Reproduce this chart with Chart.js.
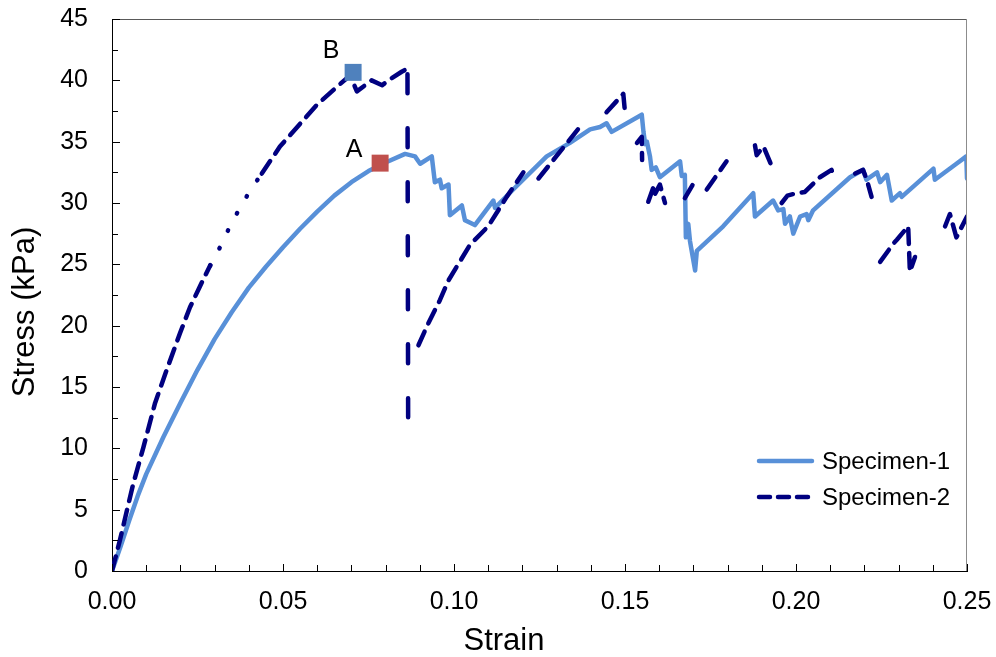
<!DOCTYPE html>
<html>
<head>
<meta charset="utf-8">
<title>Stress-strain</title>
<script src="https://cdn.jsdelivr.net/npm/chart.js@4.4.1/dist/chart.umd.min.js"></script>
<style>
  html, body { margin: 0; padding: 0; background: #fff; }
  #wrap { width: 996px; height: 657px; }
</style>
</head>
<body>
<div id="wrap"><canvas id="chart" width="996" height="657"></canvas></div>
<script>
// -- Data --
var strain1 = [0, 0.0025, 0.005, 0.0075, 0.010, 0.015, 0.020, 0.025, 0.030, 0.035, 0.040, 0.045, 0.050, 0.055, 0.060, 0.065, 0.070, 0.075, 0.080, 0.0857,
  0.0886, 0.0901, 0.0935, 0.0944, 0.0959, 0.0964, 0.0984, 0.0988, 0.1023, 0.1032, 0.1061, 0.1115, 0.1120, 0.1173, 0.1271, 0.1339, 0.1398, 0.1427,
  0.1446, 0.1461, 0.1549, 0.1554, 0.1559, 0.1564, 0.1573, 0.1578, 0.1590, 0.1602, 0.1661, 0.1666, 0.1675, 0.1678, 0.1685, 0.1690, 0.1705, 0.1710,
  0.1787, 0.1875, 0.1880, 0.1933, 0.1948, 0.1963, 0.1968, 0.1982, 0.1992, 0.2012, 0.2031, 0.2036, 0.2050, 0.2158, 0.2196, 0.2206, 0.2237, 0.2246,
  0.2266, 0.2280, 0.2304, 0.2309, 0.2402, 0.2406, 0.2469, 0.2498, 0.2500];
var stress1 = [0, 2.0, 4.1, 6.1, 7.9, 10.9, 13.7, 16.4, 18.9, 21.1, 23.1, 24.8, 26.4, 27.9, 29.3, 30.6, 31.7, 32.6, 33.3, 34.0,
  33.8, 33.2, 33.8, 31.7, 31.9, 31.2, 31.5, 29.0, 29.8, 28.6, 28.2, 30.2, 29.6, 31.1, 33.8, 34.9, 36.0, 36.2,
  36.5, 35.8, 37.2, 35.8, 34.8, 35.0, 33.8, 32.7, 32.9, 32.1, 33.4, 32.2, 32.3, 27.2, 28.3, 26.9, 24.5, 26.1,
  28.1, 30.8, 28.9, 30.2, 29.4, 29.5, 28.3, 28.9, 27.5, 28.9, 29.1, 28.6, 29.4, 32.1, 32.7, 31.9, 32.5, 31.7,
  32.3, 30.2, 30.8, 30.5, 32.8, 31.9, 33.2, 33.8, 32.0];

// null marks a break in the recorded curve
var strain2 = [0, 0.0023, 0.0062, 0.0092, 0.0126, 0.0160, 0.0199, 0.0228, 0.0257, 0.0287, 0.0316, 0.0345, 0.0374, 0.0406, 0.0438, 0.0491,
  0.0545, 0.0599, 0.0667, 0.0696, 0.0716, 0.0759, 0.0790, 0.0808, 0.0847, 0.0860, 0.0864, 0.0866, null, 0.0896, 0.0925, 0.0959, 0.0984,
  0.1047, 0.1100, 0.1154, 0.1203, null, 0.1247, 0.1368, null, 0.1446, 0.1495, 0.1500, null, 0.1535, 0.1549, 0.1550, null,
  0.1568, 0.1582, 0.1585, 0.1602, 0.1617, null, 0.1675, 0.1709, null, 0.1739, 0.1797, null, 0.1880, 0.1885, 0.1905, 0.1926, null,
  0.1958, 0.1975, 0.2002, 0.2026, 0.2070, 0.2104, 0.2110, null, 0.2173, 0.2196, 0.2207, 0.2221, null,
  0.2246, 0.2285, 0.2295, 0.2328, 0.2333, 0.2348, null, 0.2436, 0.2450, 0.2469, 0.2500];
var stress2 = [0, 2.5, 7.1, 10.1, 13.7, 16.4, 19.4, 21.5, 23.2, 24.9, 26.4, 28.1, 29.6, 31.1, 32.4, 34.6,
  36.3, 38.0, 39.7, 40.4, 39.1, 40.0, 39.6, 40.0, 40.7, 40.9, 40.5, 10.9, null, 18.4, 20.2, 22.1, 23.7,
  26.6, 28.1, 30.5, 32.5, null, 32.0, 36.2, null, 37.4, 38.9, 37.4, null, 34.9, 35.4, 33.5, null,
  30.1, 31.2, 30.6, 31.5, 30.0, null, 30.4, 32.0, null, 31.1, 33.4, null, 34.7, 33.9, 34.6, 33.2, null,
  30.0, 30.6, 30.8, 30.9, 32.1, 32.7, 32.2, null, 32.4, 32.7, 31.9, 30.5, null,
  25.2, 26.7, 27.0, 28.1, 24.4, 25.6, null, 28.1, 29.1, 27.2, 28.9];

var pointA = { x: 0.0784, y: 33.25 };
var pointB = { x: 0.0705, y: 40.65 };

var xTicks = [0, 0.05, 0.10, 0.15, 0.20, 0.25];
var yTicks = [0, 5, 10, 15, 20, 25, 30, 35, 40, 45];

var LIGHT = '#5890D8';
var NAVY = '#000080';
var FONT = "'Liberation Sans', Arial, sans-serif";

function toPoints(xs, ys) {
  return xs.map(function (x, i) {
    return x === null ? { x: NaN, y: null } : { x: x, y: ys[i] };
  });
}

function noOverflow(scale) {
  scale.paddingTop = 0;
  scale.paddingBottom = 0;
  scale.paddingLeft = 0;
  scale.paddingRight = 0;
}

// inside tick marks, frame, axis titles, labels A/B and legend
var decorations = {
  id: 'decorations',
  afterDatasetsDraw: function (chart) {
    var c = chart.ctx, a = chart.chartArea;
    var xs = chart.scales.x, ys = chart.scales.y;
    c.save();
    // frame (top and right)
    c.lineWidth = 1;
    c.strokeStyle = '#595959';
    c.beginPath();
    c.moveTo(a.left, a.top + 0.5); c.lineTo(a.right, a.top + 0.5);
    c.stroke();
    c.strokeStyle = '#8c8c8c';
    c.beginPath();
    c.moveTo(a.right - 0.5, a.top); c.lineTo(a.right - 0.5, a.bottom);
    c.stroke();

    // ticks pointing inward
    c.strokeStyle = '#000';
    c.beginPath();
    for (var v = 0; v <= 0.2501; v += 0.01) {
      var px = Math.round(xs.getPixelForValue(v)) + 0.5;
      var len = (Math.round(v * 100) % 5 === 0) ? 7 : 6;
      c.moveTo(px, a.bottom); c.lineTo(px, a.bottom - len);
    }
    for (var s = 0; s <= 45; s += 2.5) {
      var py = Math.round(ys.getPixelForValue(s)) + 0.5;
      var l2 = (s % 5 === 0) ? 8 : 6;
      c.moveTo(a.left, py); c.lineTo(a.left + l2, py);
    }
    c.stroke();

    // axis titles
    c.fillStyle = '#000';
    c.font = '31px ' + FONT;
    c.textAlign = 'center';
    c.textBaseline = 'middle';
    c.fillText('Strain', 504, 641);
    c.save();
    c.translate(25, 312);
    c.rotate(-Math.PI / 2);
    c.fillText('Stress (kPa)', 0, 0);
    c.restore();

    // point labels
    c.font = '25px ' + FONT;
    c.fillText('B', 331, 51);
    c.fillText('A', 354, 150);

    // legend
    c.lineWidth = 4.5;
    c.lineCap = 'round';
    c.strokeStyle = LIGHT;
    c.beginPath(); c.moveTo(759, 461); c.lineTo(812, 461); c.stroke();
    c.strokeStyle = NAVY;
    c.setLineDash([11, 8]);
    c.beginPath(); c.moveTo(759, 497); c.lineTo(812, 497); c.stroke();
    c.setLineDash([]);
    c.font = '24px ' + FONT;
    c.textAlign = 'left';
    c.fillText('Specimen-1', 822, 462);
    c.fillText('Specimen-2', 822, 498);
    c.restore();
  }
};

new Chart(document.getElementById('chart'), {
  type: 'scatter',
  data: {
    datasets: [
      {
        label: 'B',
        data: [pointB],
        pointStyle: 'rect',
        pointRadius: 12,
        backgroundColor: '#4F81BD',
        borderColor: '#4F81BD',
        borderWidth: 0,
        showLine: false,
        order: 0
      },
      {
        label: 'A',
        data: [pointA],
        pointStyle: 'rect',
        pointRadius: 12,
        backgroundColor: '#C0504D',
        borderColor: '#C0504D',
        borderWidth: 0,
        showLine: false,
        order: 0
      },
      {
        label: 'Specimen-2',
        data: toPoints(strain2, stress2),
        showLine: true,
        spanGaps: false,
        borderColor: NAVY,
        borderWidth: 4.5,
        borderCapStyle: 'round',
        borderJoinStyle: 'round',
        borderDash: [15, 9],
        segment: {
          borderDash: function (ctx) {
            var x0 = ctx.p0.parsed.x;
            if (x0 >= 0.0287 && x0 < 0.0438) return [0.5, 19];
            if (x0 >= 0.0864 && x0 < 0.0866) return [19, 35];
            return [15, 9];
          }
        },
        pointRadius: 0,
        tension: 0,
        order: 1
      },
      {
        label: 'Specimen-1',
        data: toPoints(strain1, stress1),
        showLine: true,
        borderColor: LIGHT,
        borderWidth: 4.5,
        borderCapStyle: 'round',
        borderJoinStyle: 'round',
        pointRadius: 0,
        tension: 0,
        order: 2
      }
    ]
  },
  options: {
    responsive: false,
    animation: false,
    events: [],
    layout: { padding: { top: 19, right: 29, left: 0, bottom: 0 } },
    plugins: {
      legend: { display: false },
      tooltip: { enabled: false }
    },
    scales: {
      x: {
        type: 'linear',
        min: 0,
        max: 0.25,
        afterFit: function (scale) { scale.height = 86; noOverflow(scale); },
        afterBuildTicks: function (scale) {
          scale.ticks = xTicks.map(function (v) { return { value: v }; });
        },
        grid: { display: false, drawTicks: false },
        border: { display: true, color: '#000', width: 1 },
        ticks: {
          padding: 16,
          color: '#000',
          font: { family: FONT, size: 25 },
          maxRotation: 0,
          callback: function (v) { return v.toFixed(2); }
        }
      },
      y: {
        type: 'linear',
        min: 0,
        max: 45,
        afterFit: function (scale) { scale.width = 112; noOverflow(scale); },
        afterBuildTicks: function (scale) {
          scale.ticks = yTicks.map(function (v) { return { value: v }; });
        },
        grid: { display: false, drawTicks: false },
        border: { display: true, color: '#000', width: 1 },
        ticks: {
          padding: 24,
          color: '#000',
          font: { family: FONT, size: 25 }
        }
      }
    }
  },
  plugins: [decorations]
});
</script>
</body>
</html>
